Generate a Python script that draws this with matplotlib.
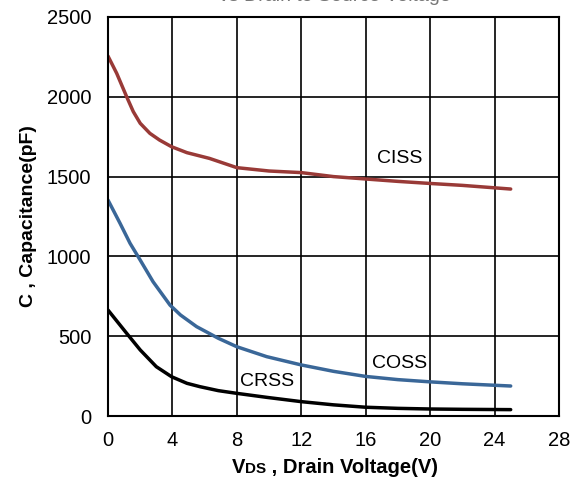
import numpy as np
import matplotlib
matplotlib.use("Agg")
import matplotlib.pyplot as plt
from matplotlib.offsetbox import TextArea, HPacker, AnnotationBbox

plt.rcParams['font.family'] = ['Liberation Sans', 'DejaVu Sans']

# values
ciss_v = [0, 0.54, 1.16, 1.57, 2.0, 2.6, 3.2, 3.95, 4.9, 6.3, 8, 10, 12, 14, 16, 18,
          20, 22, 25]
ciss_c = [2255, 2147, 2000, 1907, 1834, 1771, 1729, 1687, 1650, 1614, 1556, 1535,
          1525, 1500, 1485, 1470, 1457, 1445, 1422]

coss_v = [0, 0.75, 1.37, 2.0, 2.8, 3.85, 4.5, 5.5, 6.85, 8, 9.85, 12, 14, 16, 18, 20,
          22, 25]
coss_c = [1353, 1207, 1082, 977, 841, 695, 633, 560, 487, 434, 372, 320, 280, 248,
          228, 214, 202, 188]

crss_v = [0, 1.16, 2.0, 3.0, 3.95, 4.9, 5.7, 6.85, 8, 9.85, 12, 14, 16, 18, 20, 22, 25]
crss_c = [664, 518, 414, 309, 246, 205, 184, 159, 142, 117, 90, 70, 55, 48, 44, 42, 40]

x_ticks = [0, 4, 8, 12, 16, 20, 24, 28]
y_ticks = [0, 500, 1000, 1500, 2000, 2500]

fig = plt.figure(figsize=(5.72, 4.88), dpi=100)
ax = fig.add_axes([0.1888, 0.1475, 0.7885, 0.8177])

ax.plot(ciss_v, ciss_c, color='#993A37', lw=2.5, solid_capstyle='round')
ax.plot(coss_v, coss_c, color='#3A6798', lw=2.5, solid_capstyle='round')
ax.plot(crss_v, crss_c, color='black', lw=2.5, solid_capstyle='round')

ax.text(18.1, 1615, 'CISS', fontsize=14, ha='center', va='center')
ax.text(18.1, 330, 'COSS', fontsize=14, ha='center', va='center')
ax.text(9.85, 215, 'CRSS', fontsize=14, ha='center', va='center')

ax.set_xlim(0, 28)
ax.set_ylim(0, 2500)
ax.set_xticks(x_ticks)
ax.set_yticks(y_ticks)
ax.tick_params(length=0, labelsize=14.5, pad=11)
ax.tick_params(axis='y', pad=12)
ax.grid(True, color='black', lw=1.2)
for s in ax.spines.values():
    s.set_linewidth(1.5)

ax.set_ylabel('C , Capacitance(pF)', fontsize=14, fontweight='bold', labelpad=7)

# x label with small "DS"
parts = [TextArea('V', textprops=dict(fontsize=14.5, fontweight='bold')),
         TextArea('DS', textprops=dict(fontsize=11, fontweight='bold')),
         TextArea(' , Drain Voltage(V)', textprops=dict(fontsize=14.5, fontweight='bold'))]
box = HPacker(children=parts, align='baseline', pad=0, sep=0)
ab = AnnotationBbox(box, (0.586, 0.043), xycoords='figure fraction', frameon=False,
                    box_alignment=(0.5, 0.5))
fig.add_artist(ab)

# title mostly cut off at the top edge, as in the reference
fig.text(0.586, 0.9975, 'vs Drain to Source Voltage', fontsize=14, color='#777777',
         ha='center', va='baseline')

fig.savefig('out.png', dpi=100)
